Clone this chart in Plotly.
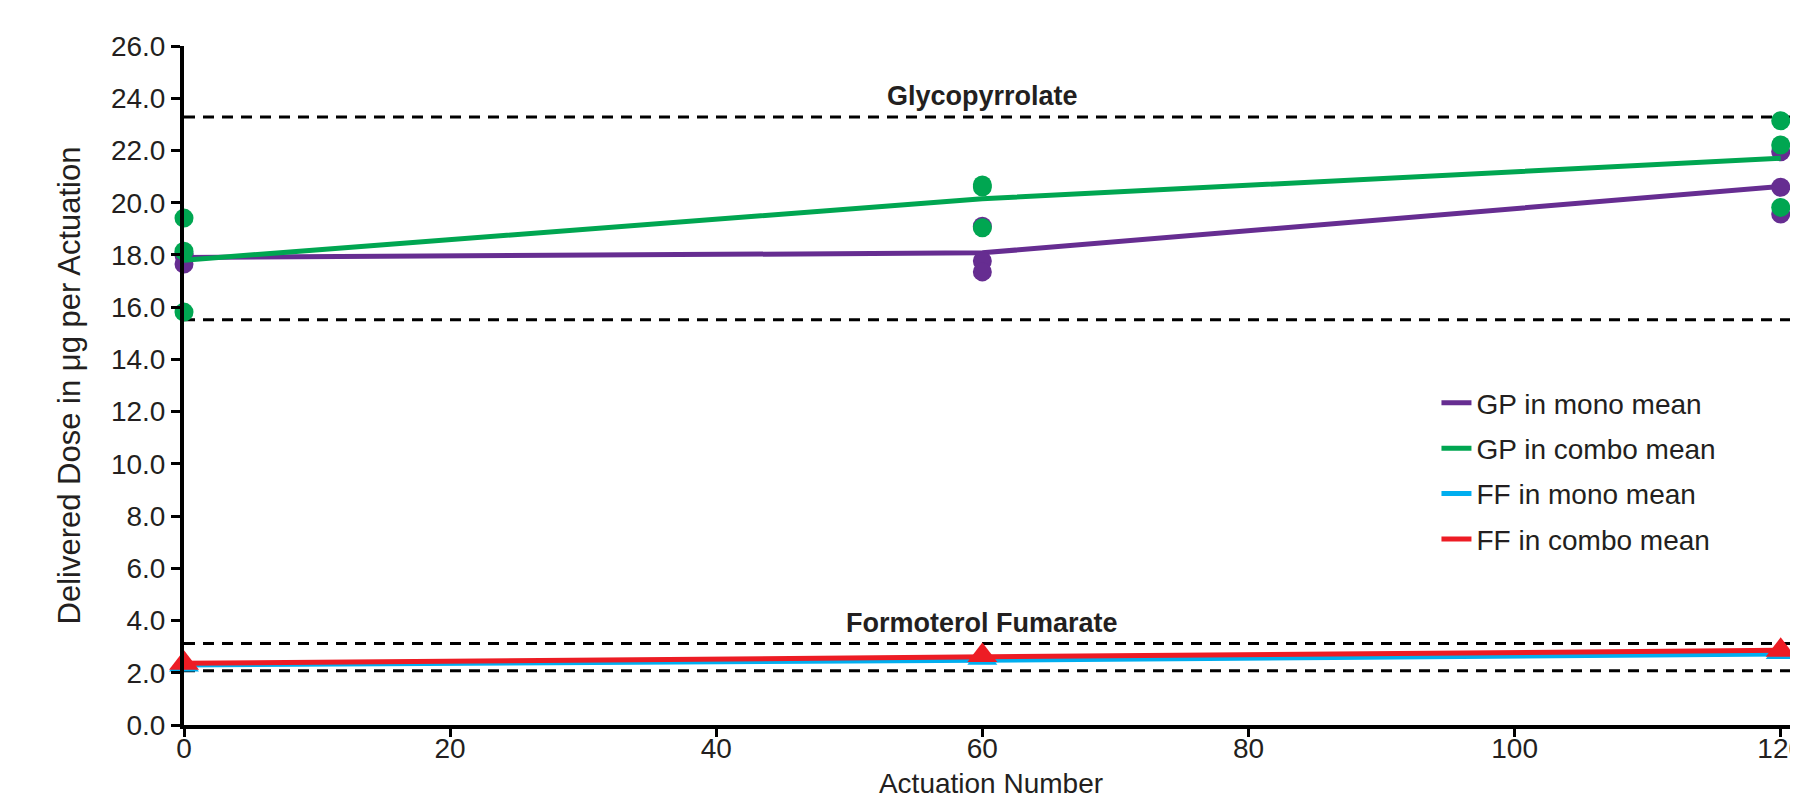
import plotly.graph_objects as go

# ---- data ----
actuations = [0, 60, 120]

# individual replicate values (3 per actuation) for Glycopyrrolate
gp_mono_points = {0: [17.65, 18.0, 18.05], 60: [19.1, 17.77, 17.35], 120: [21.95, 20.59, 19.57]}
gp_combo_points = {0: [19.41, 18.14, 15.81], 60: [20.68, 20.6, 19.04], 120: [23.14, 22.21, 19.82]}

gp_mono_mean = [17.9, 18.08, 20.62]
gp_combo_mean = [17.8, 20.15, 21.7]

ff_mono_points = [2.3, 2.56, 2.78]
ff_combo_points = [2.36, 2.66, 2.86]
ff_mono_mean = [2.3, 2.48, 2.72]
ff_combo_mean = [2.36, 2.63, 2.86]

gp_limits = [23.28, 15.52]
ff_limits = [3.12, 2.08]

y_ticks = [0, 2, 4, 6, 8, 10, 12, 14, 16, 18, 20, 22, 24, 26]
x_ticks = [0, 20, 40, 60, 80, 100, 120]

PURPLE = "#662D91"
GREEN = "#00A651"
CYAN = "#00AEEF"
RED = "#ED1C24"
INK = "#231F20"
FONT = "Liberation Sans, Arial, sans-serif"


def flatten(d):
    xs, ys = [], []
    for k, vals in d.items():
        for v in vals:
            xs.append(k)
            ys.append(v)
    return xs, ys


fig = go.Figure()

# limit lines
for v in gp_limits + ff_limits:
    fig.add_hline(y=v, line=dict(color="black", width=3, dash="11px,8px"), layer="below")

# GP mono
fig.add_trace(go.Scatter(x=actuations, y=gp_mono_mean, mode="lines", name="GP in mono mean",
                         legendgroup="a", line=dict(color=PURPLE, width=5), cliponaxis=False))
px_, py_ = flatten(gp_mono_points)
fig.add_trace(go.Scatter(x=px_, y=py_, mode="markers", legendgroup="a", showlegend=False,
                         marker=dict(color=PURPLE, size=19, symbol="circle"), cliponaxis=False))
# GP combo
fig.add_trace(go.Scatter(x=actuations, y=gp_combo_mean, mode="lines", name="GP in combo mean",
                         legendgroup="b", line=dict(color=GREEN, width=5), cliponaxis=False))
px_, py_ = flatten(gp_combo_points)
fig.add_trace(go.Scatter(x=px_, y=py_, mode="markers", legendgroup="b", showlegend=False,
                         marker=dict(color=GREEN, size=19, symbol="circle"), cliponaxis=False))
# FF mono
fig.add_trace(go.Scatter(x=actuations, y=ff_mono_mean, mode="lines", name="FF in mono mean",
                         legendgroup="c", line=dict(color=CYAN, width=5), cliponaxis=False))
fig.add_trace(go.Scatter(x=actuations, y=ff_mono_points, mode="markers", legendgroup="c", showlegend=False,
                         marker=dict(color=CYAN, size=26, symbol="triangle-up"), cliponaxis=False))
# FF combo
fig.add_trace(go.Scatter(x=actuations, y=ff_combo_mean, mode="lines", name="FF in combo mean",
                         legendgroup="d", line=dict(color=RED, width=5), cliponaxis=False))
fig.add_trace(go.Scatter(x=actuations, y=ff_combo_points, mode="markers", legendgroup="d", showlegend=False,
                         marker=dict(color=RED, size=26, symbol="triangle-up"), cliponaxis=False))

fig.add_annotation(x=60, y=24.1, text="<b>Glycopyrrolate</b>", showarrow=False,
                   font=dict(family=FONT, size=27, color=INK))
fig.add_annotation(x=60, y=3.9, text="<b>Formoterol Fumarate</b>", showarrow=False,
                   font=dict(family=FONT, size=27, color=INK))

# the page body adds an 8px offset, so the figure is 8px smaller than the window
fig.update_layout(
    width=1790, height=791,
    margin=dict(l=176, r=0, t=38, b=74, autoexpand=False),
    plot_bgcolor="white", paper_bgcolor="white",
    font=dict(family=FONT, size=28, color=INK),
    showlegend=True,
    legend=dict(x=0.776, y=0.511, xanchor="left", yanchor="top", traceorder="grouped",
                tracegroupgap=6, font=dict(size=28, color=INK), bgcolor="rgba(0,0,0,0)"),
)
fig.update_xaxes(range=[0, 121.3], tickvals=x_ticks, showgrid=False, zeroline=False,
                 showline=True, linecolor="black", linewidth=4, ticks="outside", ticklen=8,
                 tickwidth=3, tickcolor="black", ticklabeloverflow="allow", ticklabelstandoff=-13,
                 tickfont=dict(size=28, color=INK), automargin=False,
                 title=dict(text="Actuation Number", standoff=24, font=dict(size=28, color=INK)))
fig.update_yaxes(range=[0, 26], tickvals=y_ticks, tickformat=".1f", showgrid=False, zeroline=False,
                 showline=True, linecolor="black", linewidth=4, ticks="outside", ticklen=9,
                 tickwidth=3, tickcolor="black", tickfont=dict(size=28, color=INK), automargin=False,
                 title=dict(text="Delivered Dose in μg per Actuation", standoff=22,
                            font=dict(size=31, color=INK)))

fig.write_html("out.html")
